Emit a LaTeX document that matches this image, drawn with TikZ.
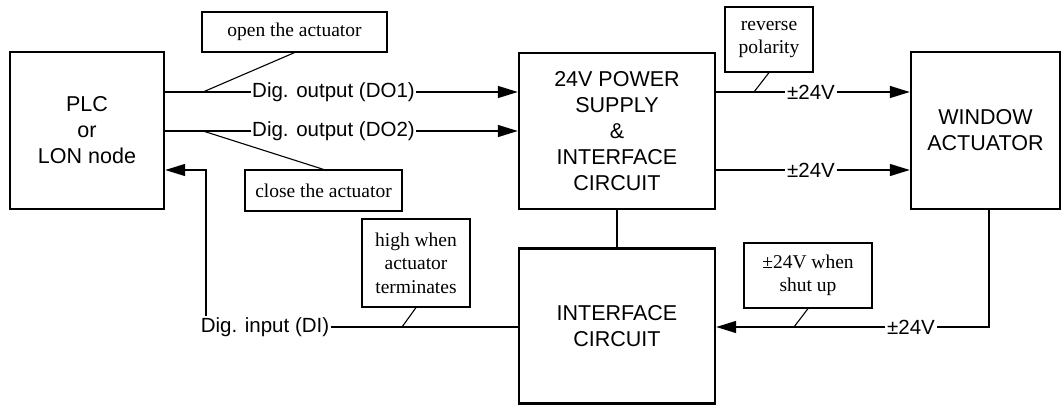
\documentclass[tikz,border=0pt]{standalone}
\usepackage{fontspec}
\setmainfont{Liberation Serif}
\setsansfont{Liberation Sans}
\usetikzlibrary{arrows.meta}
\begin{document}
\begin{tikzpicture}[x=1pt,y=-1pt,
  mainbox/.style={draw,line width=2.4pt,font=\sffamily\fontsize{21.5}{26}\selectfont,align=center,inner sep=0pt},
  callout/.style={draw,line width=1.2pt,font=\rmfamily\fontsize{19.5}{23.5}\selectfont,align=center,inner sep=0pt},
  wirelabel/.style={font=\sffamily\fontsize{20.5}{24}\selectfont,inner sep=1.5pt},
  wire/.style={line width=1.4pt},
  arrowwire/.style={wire,-{Triangle[length=20pt,width=12pt]}},
  leader/.style={line width=1.1pt}]
\useasboundingbox (0,0) rectangle (1062,406);
% main boxes
\node[mainbox,minimum width=154pt,minimum height=157pt] (plc) at (87,130.5) {PLC\\or\\LON node};
\node[mainbox,minimum width=196pt,minimum height=156pt] (psu) at (617,131) {24V POWER\\SUPPLY\\\&\\INTERFACE\\CIRCUIT};
\node[mainbox,minimum width=149pt,minimum height=157pt] (win) at (985.5,130.5) {WINDOW\\ACTUATOR};
\node[mainbox,minimum width=196pt,minimum height=155pt] (ifc) at (617,326) {INTERFACE\\CIRCUIT};
% callouts
\node[callout,minimum width=185pt,minimum height=40pt] (open) at (294.5,32) {open the actuator};
\node[callout,minimum width=157pt,minimum height=41pt] (close) at (323.5,190.5) {close the actuator};
\node[callout,minimum width=88pt,minimum height=65pt] (rev) at (769,39.5) {reverse\\polarity};
\node[callout,minimum width=108pt,minimum height=88pt] (high) at (416,263) {high when\\actuator\\terminates};
\node[callout,minimum width=128pt,minimum height=65pt] (shut) at (808,275.5) {±24V when\\shut up};
% wire labels
\node[wirelabel] (do1) at (333.5,92) {Dig. output (DO1)};
\node[wirelabel] (do2) at (333.5,131) {Dig. output (DO2)};
\node[wirelabel] (pa) at (811,92) {±24V};
\node[wirelabel] (pb) at (811,170) {±24V};
\node[wirelabel] (pc) at (911,327) {±24V};
\node[wirelabel] (di) at (265,327) {Dig. input (DI)};
% coordinates
\coordinate (fb) at (206,170);
\coordinate (wd) at (989,327);
\coordinate (l1) at (203,92);
\coordinate (l2) at (203,131);
\coordinate (l3) at (754,92);
\coordinate (l4) at (402,327);
\coordinate (l5) at (794,327);
% wires
\draw[wire] (plc.east |- do1) -- (do1.west);
\draw[arrowwire] (do1.east) -- (psu.west |- do1);
\draw[wire] (plc.east |- do2) -- (do2.west);
\draw[arrowwire] (do2.east) -- (psu.west |- do2);
\draw[wire] (psu.east |- pa) -- (pa.west);
\draw[arrowwire] (pa.east) -- (win.west |- pa);
\draw[wire] (psu.east |- pb) -- (pb.west);
\draw[arrowwire] (pb.east) -- (win.west |- pb);
\draw[wire] (psu.south) -- (ifc.north);
\draw[wire] (win.south -| wd) |- (pc.east);
\draw[arrowwire] (pc.west) -- (ifc.east |- pc);
\draw[wire] (di.east) -- (ifc.west |- di);
\draw[arrowwire] (di.north -| fb) |- (plc.east |- fb);
% leaders
\draw[leader] (l1) -- (open.south);
\draw[leader] (l2) -- (close.north);
\draw[leader] (l3) -- (rev.south);
\draw[leader] (l4) -- (high.south);
\draw[leader] (l5) -- (shut.south);
\end{tikzpicture}
\end{document}
